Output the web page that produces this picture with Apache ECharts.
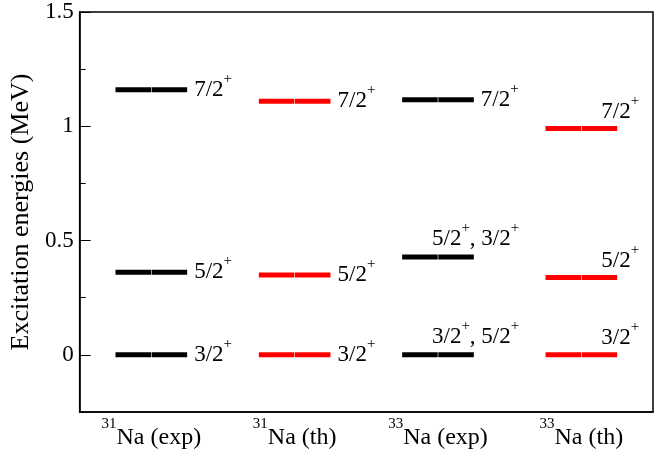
<!DOCTYPE html>
<html>
<head>
<meta charset="utf-8">
<script src="https://cdn.jsdelivr.net/npm/echarts@6/dist/echarts.min.js"></script>
<style>
  html, body { margin: 0; padding: 0; background: #fff; }
  #chart { width: 667px; height: 453px; }
</style>
</head>
<body>
<div id="chart"></div>
<script>
// Nuclei shown along the x axis
const massNumbers = ['31', '31', '33', '33'];
const dataSets = ['exp', 'th', 'exp', 'th'];

// Level energies (MeV) and spin-parity assignments for each column
const energies31Exp = [0, 0.361, 1.160];
const spins31Exp = ['3/2+', '5/2+', '7/2+'];
const energies31Th = [0, 0.349, 1.110];
const spins31Th = ['3/2+', '5/2+', '7/2+'];
const energies33Exp = [0, 0.428, 1.116];
const spins33Exp = ['3/2+, 5/2+', '5/2+, 3/2+', '7/2+'];
const energies33Th = [0, 0.338, 0.990];
const spins33Th = ['3/2+', '5/2+', '7/2+'];

// Y axis ticks
const majorTicks = [0, 0.5, 1, 1.5];
const minorTicks = [-0.25, 0.25, 0.75, 1.25];

const FONT = 'Liberation Serif';
const columns = [
  { energies: energies31Exp, spins: spins31Exp },
  { energies: energies31Th, spins: spins31Th },
  { energies: energies33Exp, spins: spins33Exp },
  { energies: energies33Th, spins: spins33Th }
];

const categories = massNumbers.map((a, i) => a + 'Na (' + dataSets[i] + ')');

// Flatten to one row per level
const rows = [];
columns.forEach((c, col) => {
  c.energies.forEach((e, k) => rows.push({ col, energy: e, spin: c.spins[k] }));
});

// "7/2+" -> rich text with a raised "+"
function spinRich(s) {
  return s.split(', ').map(part => {
    const m = part.match(/^(.*?)([+-])$/);
    return '{m|' + m[1] + '}{s|' + m[2] + '}';
  }).join('{m|, }');
}

const levelRich = {
  m: { fontFamily: FONT, fontSize: 23, lineHeight: 37, fill: '#000' },
  s: { fontFamily: FONT, fontSize: 15, lineHeight: 15, fill: '#000', verticalAlign: 'top' }
};

function renderLevel(params, api) {
  const r = rows[params.dataIndex];
  const p = api.coord([api.value(0), api.value(1)]);
  const band = api.size([1, 0])[0];
  const w = band * 0.5;
  const h = 5;
  const color = dataSets[r.col] === 'exp' ? '#000000' : '#ff0000';
  const x0 = p[0] - w / 2;
  const half = w / 2 - 0.3;
  const children = [
    { type: 'rect', shape: { x: x0, y: p[1] - h / 2, width: half, height: h }, style: { fill: color } },
    { type: 'rect', shape: { x: p[0] + 0.3, y: p[1] - h / 2, width: half, height: h }, style: { fill: color } }
  ];
  const doublet = r.spin.indexOf(',') >= 0;
  let tx, ty;
  if (r.col === 3) {
    // labels sit above the right half of the level
    tx = p[0] + 20;
    ty = p[1] - 17;
  } else if (doublet) {
    // doublet labels sit above the level
    tx = p[0] - 6;
    ty = p[1] - 18;
  } else {
    tx = x0 + w + 7;
    ty = p[1];
  }
  children.push({
    type: 'text',
    style: {
      text: spinRich(r.spin),
      x: tx, y: ty,
      align: 'left', verticalAlign: 'middle',
      fontFamily: FONT, fontSize: 23, fill: '#000',
      rich: levelRich
    }
  });
  return { type: 'group', children };
}

const chart = echarts.init(document.getElementById('chart'));
chart.setOption({
  animation: false,
  backgroundColor: '#fff',
  grid: {
    left: 78, right: 14, top: 12, bottom: 41,
    show: true, borderColor: '#000', borderWidth: 1.5, backgroundColor: 'transparent'
  },
  xAxis: {
    type: 'category',
    data: categories,
    boundaryGap: true,
    axisLine: { show: true, onZero: false, lineStyle: { color: '#000', width: 1.5 } },
    axisTick: { show: false },
    splitLine: { show: false },
    axisLabel: {
      margin: 5,
      interval: 0,
      fontFamily: FONT,
      fontSize: 24,
      color: '#000',
      formatter: (v, i) => '{s|' + massNumbers[i] + '}{m|Na (' + dataSets[i] + ')}',
      rich: {
        m: { fontFamily: FONT, fontSize: 24, lineHeight: 42, color: '#000' },
        s: { fontFamily: FONT, fontSize: 15, lineHeight: 15, color: '#000', verticalAlign: 'top' }
      }
    }
  },
  yAxis: [{
    type: 'value',
    min: -0.25, max: 1.5,
    name: 'Excitation energies (MeV)',
    nameLocation: 'middle',
    nameGap: 37,
    nameTextStyle: { fontFamily: FONT, fontSize: 26, color: '#000' },
    axisLine: { show: true, lineStyle: { color: '#000', width: 1.5 } },
    axisTick: { show: true, inside: true, length: 11, customValues: majorTicks, lineStyle: { color: '#000', width: 1 } },
    axisLabel: { customValues: majorTicks, margin: 6, fontFamily: FONT, fontSize: 23, color: '#000' },
    splitLine: { show: false }
  }, {
    type: 'value',
    min: -0.25, max: 1.5,
    position: 'left',
    axisLine: { show: false },
    axisTick: { show: true, inside: true, length: 6, customValues: minorTicks, lineStyle: { color: '#000', width: 1 } },
    axisLabel: { show: false },
    splitLine: { show: false }
  }],
  series: [{
    type: 'custom',
    yAxisIndex: 0,
    renderItem: renderLevel,
    data: rows.map(r => [r.col, r.energy]),
    encode: { x: 0, y: 1 },
    clip: false
  }]
});
</script>
</body>
</html>
